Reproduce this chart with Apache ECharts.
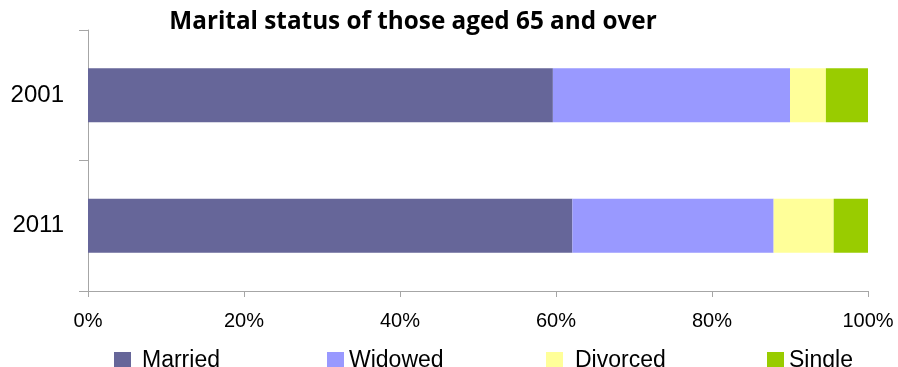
<!DOCTYPE html>
<html>
<head>
<meta charset="utf-8">
<script src="https://cdn.jsdelivr.net/npm/echarts@6/dist/echarts.min.js"></script>
<style>
  html, body { margin: 0; padding: 0; background: #ffffff; }
  #chart { width: 898px; height: 367px; }
</style>
</head>
<body>
<div id="chart"></div>
<script>
// Census years (top to bottom)
const years = ['2001', '2011'];

// Share of people aged 65+ by marital status, percent
const married  = [59.6, 62.1];
const widowed  = [30.4, 25.8];
const divorced = [4.6, 7.7];
const single   = [5.4, 4.4];

// X axis tick labels
const xTicks = ['0%', '20%', '40%', '60%', '80%', '100%'];

const seriesNames = ['Married', 'Widowed', 'Divorced', 'Single'];
const seriesData = [married, widowed, divorced, single];
const colors = ['#666699', '#9999FF', '#FFFF99', '#99CC00'];

// Legend entries are placed individually along the bottom
const legendLeft = [109, 322, 541, 762];
const legendTextGap = [6, 0, 7, 0];

const axisGrey = '#A6A6A6';
const labelFont = '"Liberation Sans", Arial, sans-serif';

const chart = echarts.init(document.getElementById('chart'), null, { renderer: 'canvas' });

chart.setOption({
  animation: false,
  backgroundColor: '#ffffff',
  title: {
    text: 'Marital status of those aged 65 and over',
    left: 408,
    textAlign: 'center',
    top: 5,
    textStyle: {
      fontFamily: '"Open Sans", sans-serif',
      fontWeight: 'bold',
      fontSize: 24.3,
      color: '#000000'
    }
  },
  legend: seriesNames.map((name, i) => ({
    data: [name],
    left: legendLeft[i],
    top: 344,
    itemWidth: 17,
    itemHeight: 17,
    icon: 'rect',
    selectedMode: false,
    textStyle: {
      fontFamily: labelFont,
      fontSize: 23,
      color: '#000000',
      padding: [0, 0, 0, legendTextGap[i]]
    }
  })),
  grid: { left: 88, right: 30, top: 30, bottom: 76, containLabel: false },
  xAxis: {
    type: 'value',
    min: 0,
    max: 100,
    interval: 20,
    axisLine: { show: true, lineStyle: { color: axisGrey, width: 1 } },
    axisTick: { show: true, length: 6, lineStyle: { color: axisGrey } },
    splitLine: { show: false },
    axisLabel: {
      margin: 20,
      fontFamily: labelFont,
      fontSize: 20,
      color: '#000000',
      formatter: (v) => xTicks[Math.round(v / 20)]
    }
  },
  yAxis: {
    type: 'category',
    data: years,
    inverse: true,
    axisLine: { show: true, lineStyle: { color: axisGrey, width: 1 } },
    axisTick: { show: true, length: 9, inside: false, lineStyle: { color: axisGrey } },
    axisLabel: {
      margin: 24,
      fontFamily: labelFont,
      fontSize: 24,
      color: '#000000'
    }
  },
  series: seriesNames.map((name, i) => ({
    name: name,
    type: 'bar',
    stack: 'total',
    data: seriesData[i],
    barWidth: 54,
    itemStyle: { color: colors[i] },
    emphasis: { disabled: true }
  }))
});
</script>
</body>
</html>
